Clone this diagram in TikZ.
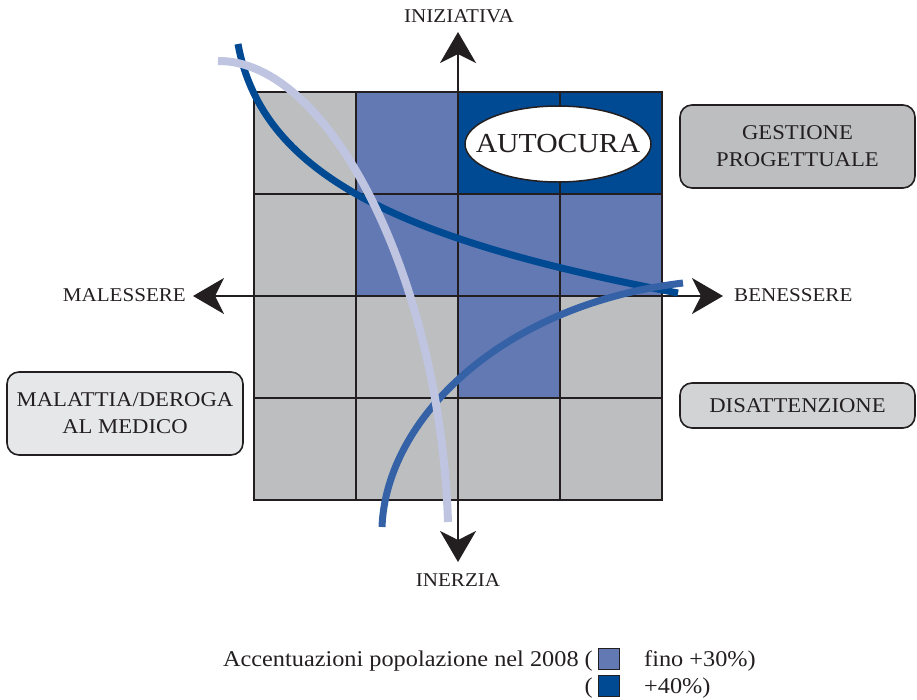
\documentclass[tikz,border=0pt]{standalone}
\usepackage{fontspec}
\setmainfont[FakeStretch=1.08]{Liberation Serif}
\usetikzlibrary{arrows.meta,shapes.geometric}
\definecolor{cellgray}{HTML}{BCBEC0}
\definecolor{midblue}{HTML}{6379B3}
\definecolor{deepblue}{HTML}{004A93}
\definecolor{paleblue}{HTML}{BFC5E1}
\definecolor{curveblue}{HTML}{3562A6}
\definecolor{inkline}{HTML}{231F20}
\definecolor{boxgray}{HTML}{BCBEC0}
\definecolor{boxlight}{HTML}{E6E7E8}
\definecolor{boxmid}{HTML}{D1D3D4}
\tikzset{
  gridline/.style={draw=inkline, line width=2.6pt},
  axisline/.style={draw=inkline, line width=1.5pt,
    -{Stealth[length=31pt,width=36pt,inset=9pt]}},
  axislabel/.style={font=\fontsize{19.5}{24}\selectfont, text=inkline, inner sep=0pt},
  tagbox/.style={draw=inkline, line width=1.6pt, rounded corners=12pt,
    align=center, text=inkline, font=\fontsize{21}{27}\selectfont, inner sep=0pt},
  trend/.style={line width=7pt, line cap=butt},
  legtext/.style={font=\fontsize{22.5}{26}\selectfont, text=inkline, inner sep=0pt},
  legsquare/.style={draw=inkline, line width=1.4pt, minimum size=21pt, inner sep=0pt}
}
\begin{document}
\begin{tikzpicture}[x=1pt,y=-1pt]
\useasboundingbox (0,0) rectangle (917,699);

% cells of the 4x4 matrix: column/row/colour
\foreach \c/\r/\col in {
  0/0/cellgray, 1/0/midblue, 2/0/deepblue, 3/0/deepblue,
  0/1/cellgray, 1/1/midblue, 2/1/midblue, 3/1/midblue,
  0/2/cellgray, 1/2/cellgray, 2/2/midblue, 3/2/cellgray,
  0/3/cellgray, 1/3/cellgray, 2/3/cellgray, 3/3/cellgray}
  \fill[\col] ({254+102*\c},{92+102*\r}) rectangle ++(102,102);

% grid lines
\foreach \i in {1,2,3} {
  \draw[gridline] ({254+102*\i},92) -- ({254+102*\i},500);
  \draw[gridline] (254,{92+102*\i}) -- (662,{92+102*\i});
}
\draw[gridline] (254,92) rectangle (662,500);

% axes
\coordinate (O) at (458,296);
\coordinate (N) at (458,32);
\coordinate (S) at (458,562);
\coordinate (W) at (193,296);
\coordinate (E) at (723,296);
\draw[axisline] (O) -- (N);
\draw[axisline] (O) -- (S);
\draw[axisline] (O) -- (W);
\draw[axisline] (O) -- (E);

\node[axislabel, anchor=base] (ini) at (459,22) {INIZIATIVA};
\node[axislabel, anchor=base] (ine) at (458,586) {INERZIA};
\node[axislabel, anchor=base east] (mal) at (186,301) {MALESSERE};
\node[axislabel, anchor=base west] (ben) at (734,301) {BENESSERE};

% trend curves
\draw[trend, deepblue] (238,44) .. controls (262,175) and (400,240) .. (678,293);
\draw[trend, curveblue] (382,527) .. controls (386,420) and (500,305) .. (683,283);
\draw[trend, paleblue, line width=8pt] (218,61) .. controls (330,60) and (440,280) .. (448,522);

% self-care ellipse and its label
\node[ellipse, draw=inkline, line width=1.5pt, fill=white, minimum width=186pt,
  minimum height=76pt, inner sep=0pt] (auto) at (558,144) {};
\node[text=inkline, inner sep=0pt, font=\fontsize{27.5}{32}\selectfont]
  (autotext) at (auto.center) {AUTOCURA};

% side boxes
\node[tagbox, fill=boxgray, minimum width=235pt, minimum height=83pt]
  (gest) at (797.5,146.5) {GESTIONE\\PROGETTUALE};
\node[tagbox, fill=boxlight, minimum width=236pt, minimum height=83pt]
  (malat) at (125,413.5) {MALATTIA/DEROGA\\AL MEDICO};
\node[tagbox, fill=boxmid, minimum width=235pt, minimum height=45pt]
  (dis) at (797.5,405.5) {DISATTENZIONE};

% legend
\node[legtext, anchor=base east] (leg1) at (593,666) {Accentuazioni popolazione nel 2008 (};
\node[legsquare, fill=midblue] (sq1) at (609,659) {};
\node[legtext, anchor=base west] (leg1b) at (644,666) {fino +30\%)};
\node[legtext, anchor=base east] (leg2) at (593,693) {(};
\node[legsquare, fill=deepblue] (sq2) at (609,686) {};
\node[legtext, anchor=base west] (leg2b) at (644,693) {+40\%)};
\end{tikzpicture}
\end{document}
